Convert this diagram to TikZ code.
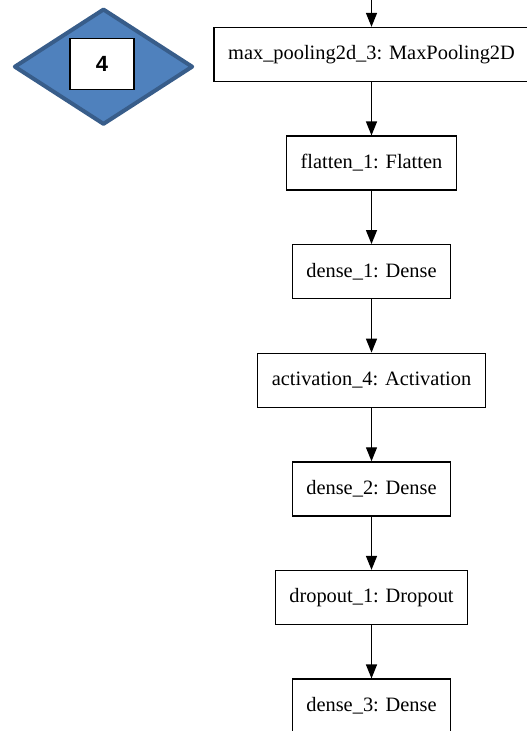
\documentclass[tikz,border=0pt]{standalone}
\usepackage{fontspec}
\setmainfont{Liberation Serif}
\newfontfamily\badgefont{Liberation Sans}
\usetikzlibrary{arrows.meta,shapes.geometric}

\definecolor{badgeblue}{HTML}{4F81BD}
\definecolor{badgeedge}{HTML}{385D8A}

\begin{document}
\begin{tikzpicture}[x=1pt, y=-1pt,
	layer/.style = {draw, line width=1.3pt, rectangle, inner xsep=14pt,
		minimum height=54pt, font=\fontsize{20.4}{24}\selectfont},
	flow/.style = {line width=1.3pt, -{Triangle[length=14pt, width=11pt]}}]
	
	\clip (0,0) rectangle (527,731);
	
	\def \cx {371.5}
	\def \gap {108.6} % distance between layer centres
	
	% badge on the left
	\node[diamond, draw=badgeedge, fill=badgeblue, line width=4pt, line join=round,
		minimum width=179pt, minimum height=116pt] (badge) at (103.5,66.7) {};
	\node[draw, fill=white, line width=1.5pt, minimum width=64pt, minimum height=51pt,
		font=\badgefont\bfseries\fontsize{22}{24}\selectfont] (num) at (102,64.2) {4};
	
	% layers of the network
	\foreach \lbl [count=\i] in {max\_pooling2d\_3: MaxPooling2D, flatten\_1: Flatten,
		dense\_1: Dense, activation\_4: Activation, dense\_2: Dense,
		dropout\_1: Dropout, dense\_3: Dense}
	{
		\node[layer] (l\i) at (\cx, {54.5 + \gap*(\i-1)}) {\lbl};
	}
	
	\coordinate (in) at (\cx, 0);
	\draw[flow] (in) -- (l1);
	\foreach \i [evaluate=\i as \j using int(\i+1)] in {1,...,6}
		\draw[flow] (l\i) -- (l\j);
\end{tikzpicture}
\end{document}
